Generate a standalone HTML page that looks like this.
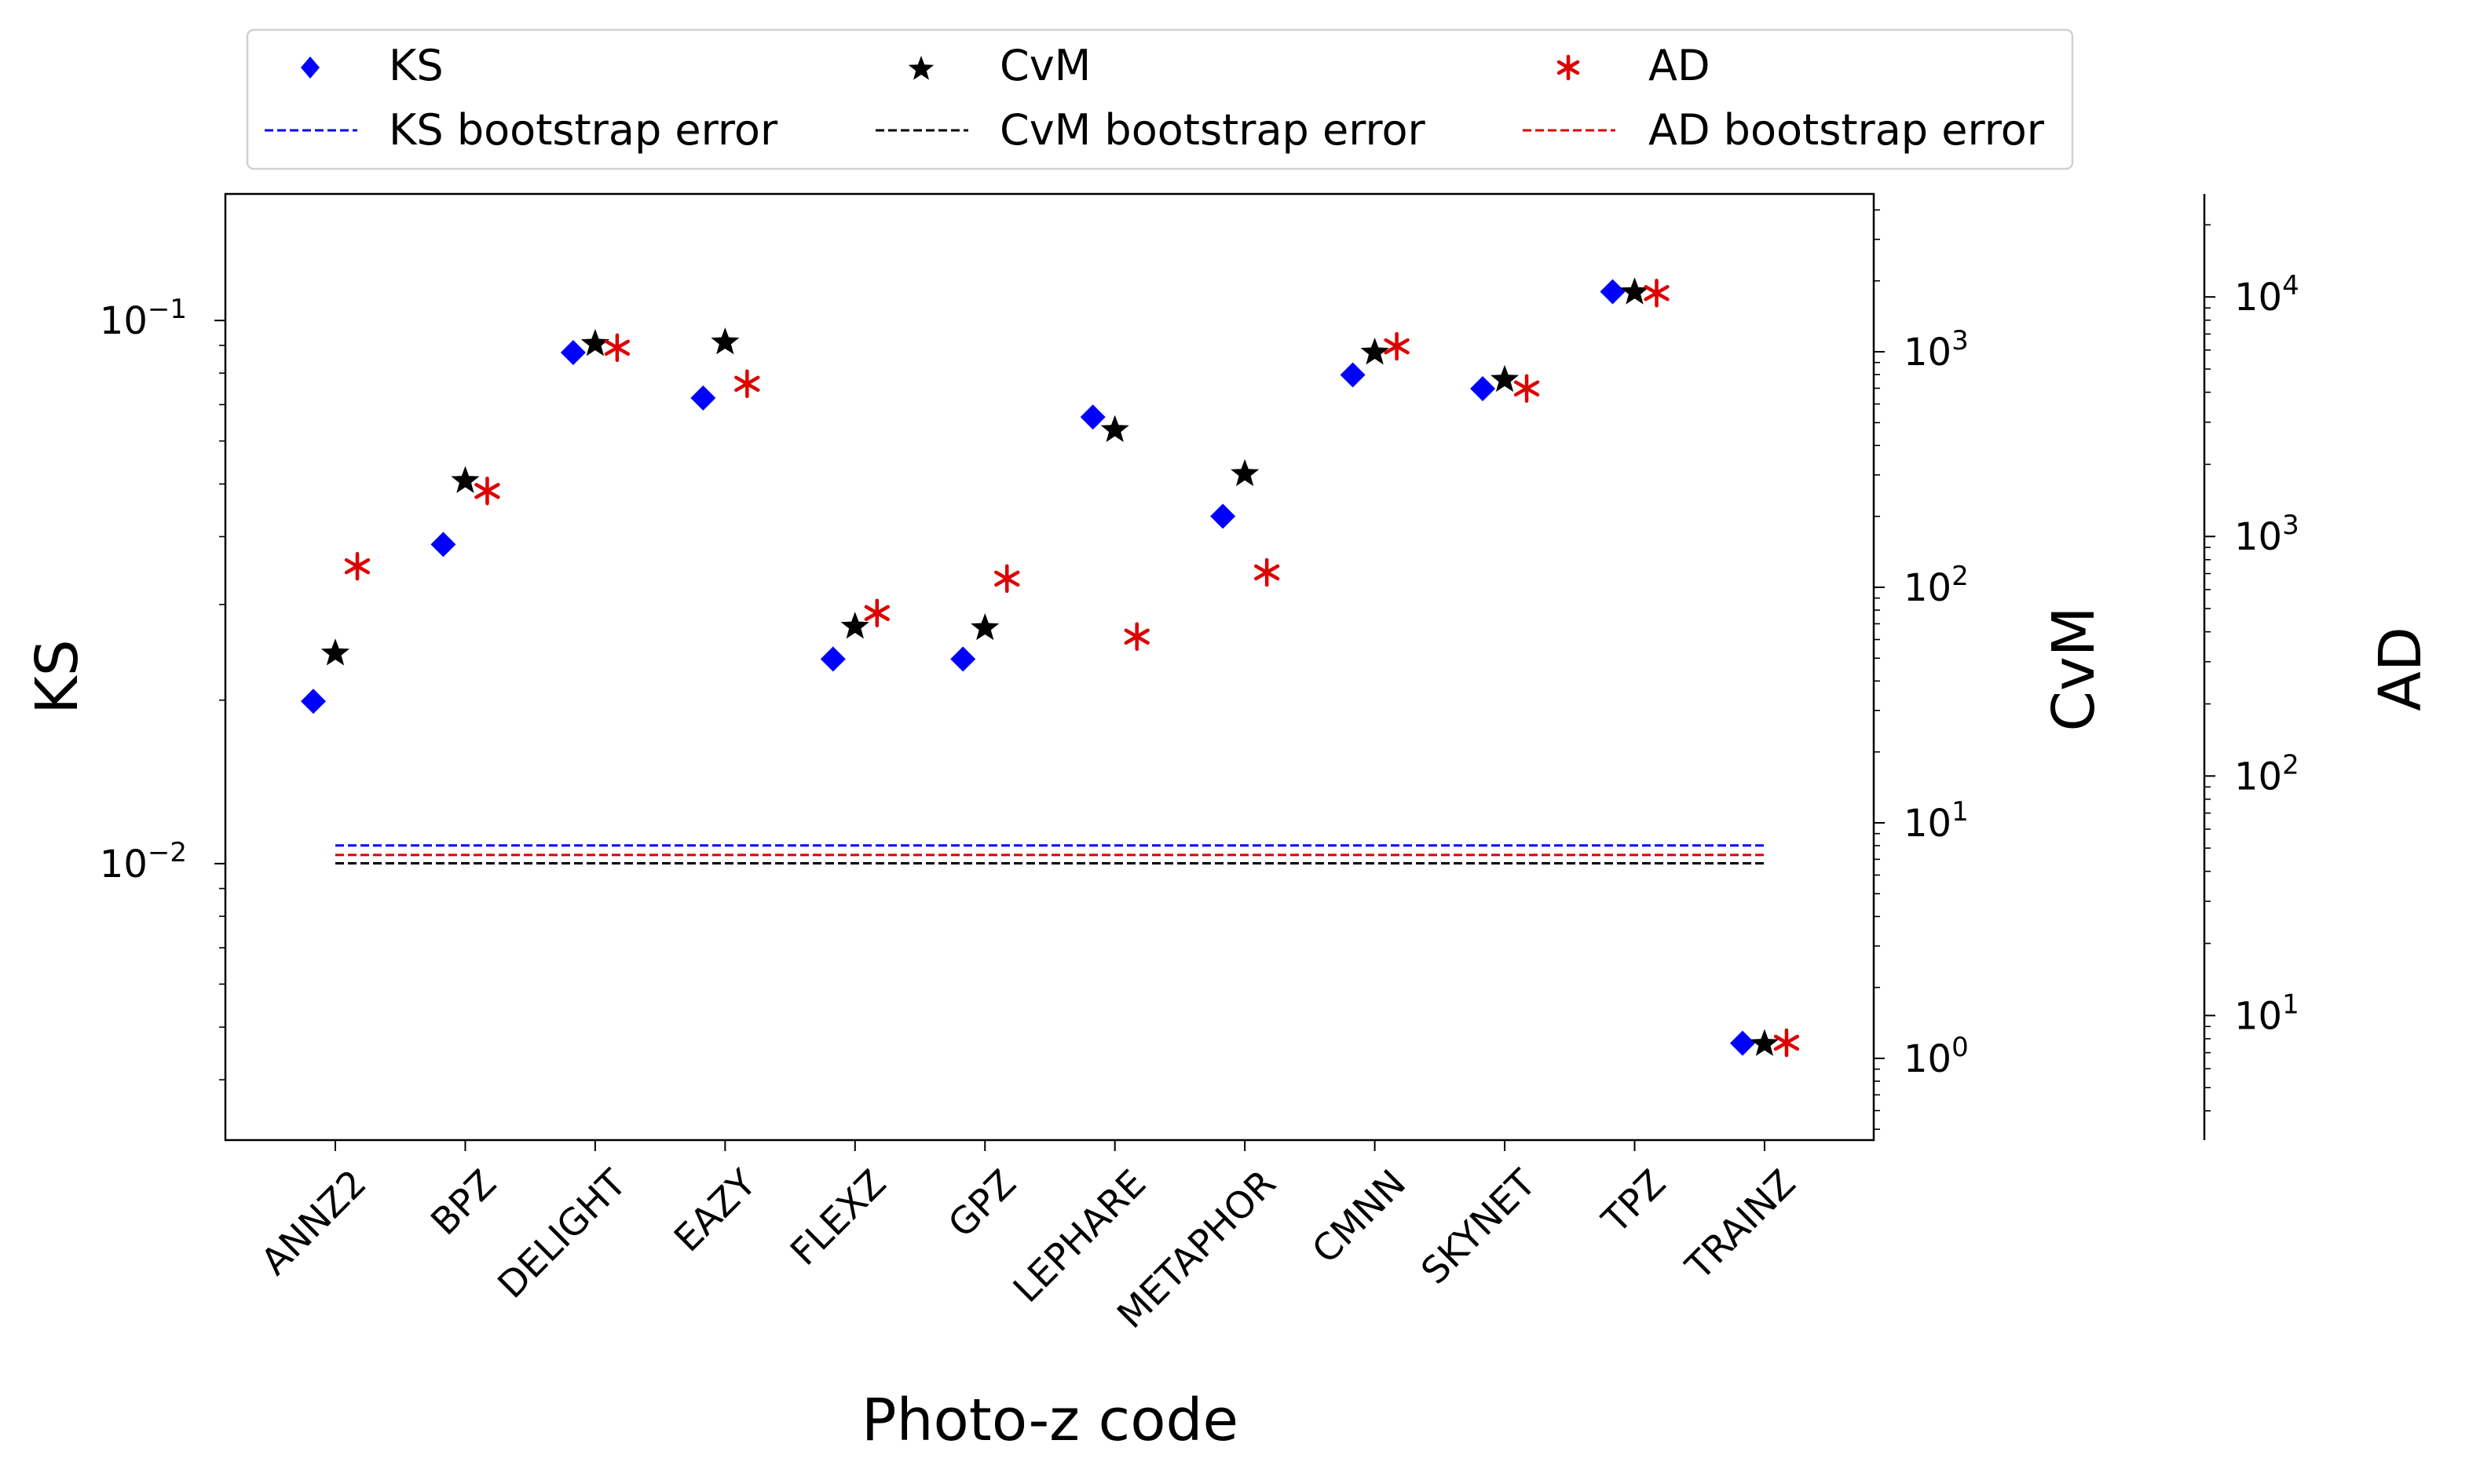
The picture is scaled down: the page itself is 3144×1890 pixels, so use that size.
<!DOCTYPE html>
<html><head><meta charset="utf-8"><style>
html,body{margin:0;padding:0;background:#fff;}
svg{display:block;font-family:"DejaVu Sans","Liberation Sans",sans-serif;}
</style></head><body>
<svg id="chart" width="3144" height="1890" viewBox="0 0 3144 1890" xmlns="http://www.w3.org/2000/svg">
<rect width="3144" height="1890" fill="#fff"/>
<g id="marks"></g>
<rect x="287" y="247" width="2099" height="1205" fill="none" stroke="#000" stroke-width="2.5"/>
<line x1="2807" y1="247" x2="2807" y2="1452" stroke="#000" stroke-width="2.5"/>
<g id="axes"></g>
<text x="0" y="0" font-size="74" text-anchor="middle" transform="translate(98,862) rotate(-90)">KS</text>
<text x="0" y="0" font-size="74" text-anchor="middle" transform="translate(2666,852) rotate(-90)">CvM</text>
<text x="0" y="0" font-size="74" text-anchor="middle" transform="translate(3082,852) rotate(-90)">AD</text>
<text x="1337" y="1834" font-size="74" text-anchor="middle">Photo-z code</text>
<g>
<rect x="315" y="38" width="2324" height="177" rx="8" fill="#fff" stroke="#d0d0d0" stroke-width="2.5"/>
<g><path d="M395,72 L407,86 L395,100 L383,86 Z" fill="#0000ff"/><text x="495" y="102" font-size="54">KS</text></g>
<g><path id="legstar" fill="#000"/><text x="1273" y="102" font-size="54">CvM</text></g>
<g stroke="#dd0000" stroke-width="4.5" stroke-linecap="round"><line x1="1997" y1="72" x2="1997" y2="100"/><line x1="1985" y1="79" x2="2009" y2="93"/><line x1="1985" y1="93" x2="2009" y2="79"/></g>
<text x="2099" y="102" font-size="54">AD</text>
<g><line x1="337" y1="166" x2="455" y2="166" stroke="#0000ff" stroke-width="3" stroke-dasharray="11,5"/><text x="495" y="184" font-size="54">KS bootstrap error</text></g>
<g><line x1="1115" y1="166" x2="1233" y2="166" stroke="#000" stroke-width="3" stroke-dasharray="11,5"/><text x="1273" y="184" font-size="54">CvM bootstrap error</text></g>
<g><line x1="1939" y1="166" x2="2057" y2="166" stroke="#dd0000" stroke-width="3" stroke-dasharray="11,5"/><text x="2099" y="184" font-size="54">AD bootstrap error</text></g>
</g>
</svg>
<script>
const categories = ["ANNZ2","BPZ","DELIGHT","EAZY","FLEXZ","GPZ","LEPHARE","METAPHOR","CMNN","SKYNET","TPZ","TRAINZ"];
const ksValues = [0.0199,0.0387,0.0873,0.072,0.0238,0.0238,0.0664,0.0436,0.0794,0.0749,0.113,0.00467];
const cvmValues = [52.8,285,1088,1105,68.6,67.6,469,305,1000,766,1803,1.16];
const adValues = [751,1549,6138,4340,479,667,382,708,6220,4150,10380,7.7];
const ksBootstrap = 0.0108;
const cvmBootstrap = 6.73;
const adBootstrap = 46.8;
const ksTicks = [-2,-1];
const cvmTicks = [0,1,2,3];
const adTicks = [1,2,3,4];

const NS = "http://www.w3.org/2000/svg";
const TOP = 247, BOT = 1452, LEFT = 287, RIGHT = 2386, ADX = 2807;
function logScale(lmin, lmax){ return v => BOT - (Math.log10(v) - lmin) / (lmax - lmin) * (BOT - TOP); }
const yKS = logScale(-2.509, -0.767);
const yCvM = logScale(-0.347, 3.67);
const yAD = logScale(0.48, 4.43);
const xPos = i => 427 + i * 165.45;

function el(tag, attrs, parent){ const e = document.createElementNS(NS, tag); for (const k in attrs) e.setAttribute(k, attrs[k]); parent.appendChild(e); return e; }
function starPath(cx, cy, r){
  let d = "";
  for (let k = 0; k < 10; k++){
    const rr = k % 2 ? r * 0.42 : r;
    const a = -Math.PI/2 + k * Math.PI/5;
    d += (k ? "L" : "M") + (cx + rr*Math.cos(a)).toFixed(1) + "," + (cy + rr*Math.sin(a)).toFixed(1);
  }
  return d + "Z";
}
document.getElementById("legstar").setAttribute("d", starPath(1173, 88, 17));

const marks = document.getElementById("marks");
const axes = document.getElementById("axes");

const bs = [[yKS(ksBootstrap), "#0000ff", "ks-bootstrap-line"], [yAD(adBootstrap), "#dd0000", "ad-bootstrap-line"], [yCvM(cvmBootstrap), "#000", "cvm-bootstrap-line"]];
bs.forEach(b => {
  const l = el("line", {x1: xPos(0), x2: xPos(11), y1: b[0], y2: b[0], stroke: b[1], "stroke-width": 3, "stroke-dasharray": "11,5"}, marks);
  
  
});

categories.forEach((c, i) => {
  const x = xPos(i);
  const ky = yKS(ksValues[i]);
  const d = el("path", {d: `M${x-28},${ky-16} L${x-12},${ky} L${x-28},${ky+16} L${x-44},${ky} Z`, fill: "#0000ff"}, marks);
  
  
  const cy = yCvM(cvmValues[i]);
  const s = el("path", {d: starPath(x, cy + 1, 19), fill: "#000"}, marks);
  
  
  const ay = yAD(adValues[i]);
  const g = el("g", {stroke: "#dd0000", "stroke-width": 4.5, "stroke-linecap": "round"}, marks);
  
  
  const ax = x + 28, r = 16;
  el("line", {x1: ax, y1: ay - r, x2: ax, y2: ay + r}, g);
  el("line", {x1: ax - r*0.87, y1: ay - r*0.5, x2: ax + r*0.87, y2: ay + r*0.5}, g);
  el("line", {x1: ax - r*0.87, y1: ay + r*0.5, x2: ax + r*0.87, y2: ay - r*0.5}, g);
  el("line", {x1: x, y1: BOT, x2: x, y2: BOT + 14, stroke: "#000", "stroke-width": 2}, axes);
  const t = el("text", {x: 0, y: 0, "font-size": 47, "text-anchor": "end", transform: `translate(${x+42},${BOT+58}) rotate(-45)`}, axes);
  t.textContent = c;
  
  
});

function logAxis(scale, lmin, lmax, xAxis, dir, majors, labelX, anchor){
  for (let p = Math.floor(lmin); p <= Math.ceil(lmax); p++){
    for (let m = 1; m <= 9; m++){
      const v = m * Math.pow(10, p), lv = Math.log10(v);
      if (lv < lmin || lv > lmax) continue;
      const y = scale(v), len = m === 1 ? 14 : 8;
      el("line", {x1: xAxis, y1: y, x2: xAxis + dir*len, y2: y, stroke: "#000", "stroke-width": m===1 ? 2 : 1.6}, axes);
    }
  }
  majors.forEach(p => {
    const y = scale(Math.pow(10, p));
    const t = el("text", {x: labelX, y: y + 17, "font-size": 48, "text-anchor": anchor}, axes);
    
    
    const a = el("tspan", {}, t); a.textContent = "10";
    const b = el("tspan", {dy: -20, "font-size": 34}, t); b.textContent = (p < 0 ? "\u2212" : "") + Math.abs(p);
  });
}
logAxis(yKS, -2.509, -0.767, LEFT, -1, ksTicks, 238, "end");
logAxis(yCvM, -0.347, 3.67, RIGHT, 1, cvmTicks, 2424, "start");
logAxis(yAD, 0.48, 4.43, ADX, 1, adTicks, 2845, "start");
</script>
</body></html>
